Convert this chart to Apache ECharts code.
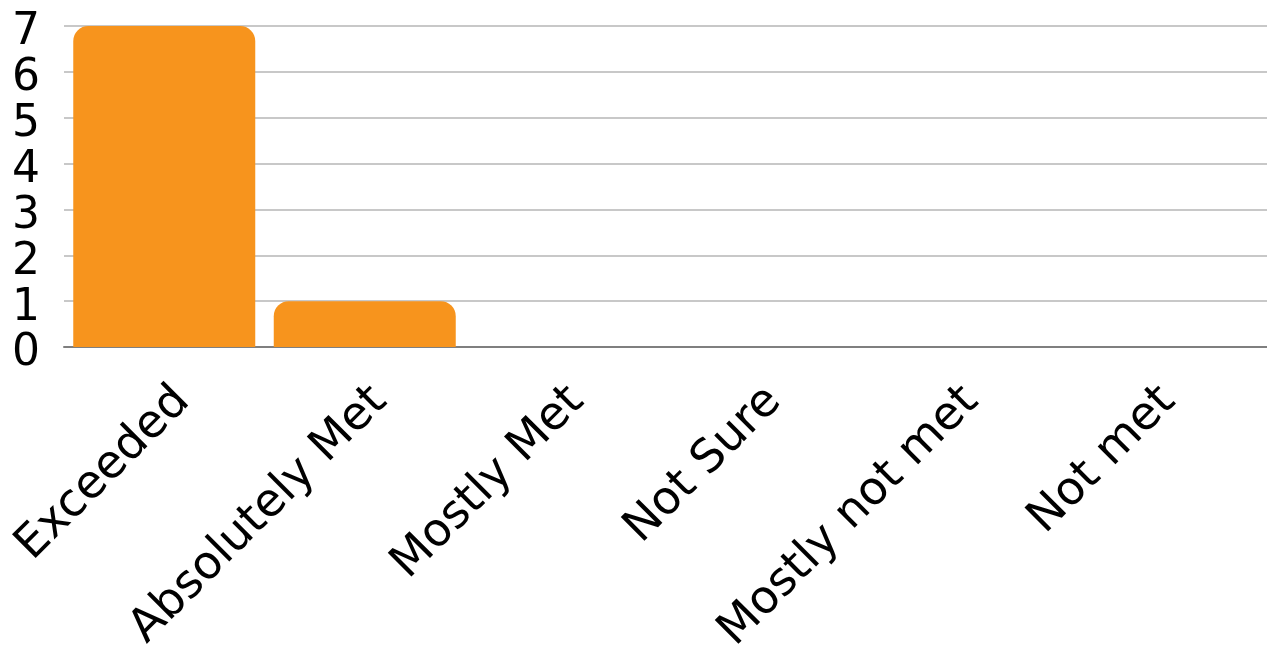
<!DOCTYPE html>
<html>
<head>
<meta charset="utf-8">
<script src="https://cdn.jsdelivr.net/npm/echarts@6/dist/echarts.min.js"></script>
<style>
  html, body { margin: 0; padding: 0; background: #fff; }
  #chart { width: 1267px; height: 657px; }
</style>
</head>
<body>
<div id="chart"></div>
<script>
const categories = ['Exceeded', 'Absolutely Met', 'Mostly Met', 'Not Sure', 'Mostly not met', 'Not met'];
const counts = [7, 1, 0, 0, 0, 0];

const chart = echarts.init(document.getElementById('chart'));

// second grid only carries the rotated category labels, nudged right like the original
const option = {
  animation: false,
  textStyle: { fontFamily: 'DejaVu Sans' },
  grid: [
    { left: 64, top: 26, width: 1212, bottom: 310 },
    { left: 84, top: 26, width: 1212, bottom: 310 }
  ],
  xAxis: [
    {
      type: 'category',
      gridIndex: 0,
      data: categories,
      axisLine: { show: true, lineStyle: { color: '#7f7f7f', width: 2 } },
      axisTick: { show: false },
      axisLabel: { show: false }
    },
    {
      type: 'category',
      gridIndex: 1,
      data: categories,
      axisLine: { show: false },
      axisTick: { show: false },
      axisLabel: {
        interval: 0,
        rotate: 45,
        margin: 53,
        fontSize: 46,
        color: '#000'
      }
    }
  ],
  yAxis: [
    {
      type: 'value',
      gridIndex: 0,
      min: 0,
      max: 7,
      interval: 1,
      axisLine: { show: false },
      axisTick: { show: false },
      axisLabel: {
        color: '#000',
        margin: 24,
        formatter: '{n|{value}}',
        rich: { n: { fontSize: 44, fontWeight: 500, color: '#000', padding: [14, 0, 0, 0] } }
      },
      splitLine: { lineStyle: { color: '#c8c8c8', width: 2 } }
    },
    {
      type: 'value',
      gridIndex: 1,
      min: 0,
      max: 7,
      show: false
    }
  ],
  series: [
    {
      type: 'bar',
      data: counts,
      barWidth: 182,
      itemStyle: { color: '#f7941d', borderRadius: [15, 15, 0, 0] }
    }
  ]
};

chart.setOption(option);
window.addEventListener('resize', () => chart.resize());
</script>
</body>
</html>
